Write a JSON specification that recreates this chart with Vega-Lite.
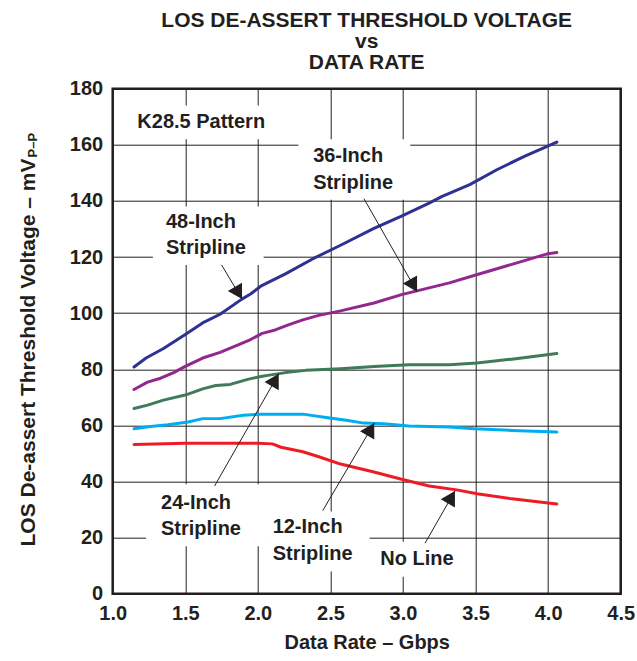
{
  "$schema": "https://vega.github.io/schema/vega-lite/v6.json",
  "width": 508,
  "height": 505,
  "autosize": {"type": "none"},
  "padding": {"left": 112.7, "top": 88.7, "right": 16, "bottom": 67},
  "background": "white",
  "config": {
    "font": "Liberation Sans",
    "view": {"stroke": "#231F20", "strokeWidth": 2.5},
    "axis": {
      "grid": true,
      "gridColor": "#231F20",
      "gridOpacity": 1,
      "gridWidth": 1,
      "ticks": false,
      "domain": false,
      "labelFont": "Liberation Sans",
      "labelFontWeight": "bold",
      "labelFontSize": 20,
      "labelColor": "#231F20",
      "titleFont": "Liberation Sans",
      "titleFontWeight": "bold",
      "titleFontSize": 20,
      "titleColor": "#231F20"
    }
  },
  "title": {
    "text": ["LOS DE-ASSERT THRESHOLD VOLTAGE", "vs", "DATA RATE"],
    "font": "Liberation Sans",
    "fontWeight": "bold",
    "fontSize": 21,
    "lineHeight": 21,
    "color": "#231F20",
    "anchor": "middle",
    "frame": "group",
    "offset": 6
  },
  "datasets": {
    "curves": [
      {"series": "48-Inch", "rate": 1.147, "mv": 80.8},
      {"series": "48-Inch", "rate": 1.23, "mv": 84},
      {"series": "48-Inch", "rate": 1.35, "mv": 87.4},
      {"series": "48-Inch", "rate": 1.5, "mv": 92.4},
      {"series": "48-Inch", "rate": 1.63, "mv": 96.8},
      {"series": "48-Inch", "rate": 1.74, "mv": 99.6},
      {"series": "48-Inch", "rate": 1.89, "mv": 105},
      {"series": "48-Inch", "rate": 1.95, "mv": 106.8},
      {"series": "48-Inch", "rate": 2.02, "mv": 109.6},
      {"series": "48-Inch", "rate": 2.19, "mv": 114},
      {"series": "48-Inch", "rate": 2.38, "mv": 119.4},
      {"series": "48-Inch", "rate": 2.57, "mv": 124.2},
      {"series": "48-Inch", "rate": 2.8, "mv": 130.2},
      {"series": "48-Inch", "rate": 2.99, "mv": 134.6},
      {"series": "48-Inch", "rate": 3.18, "mv": 139.2},
      {"series": "48-Inch", "rate": 3.27, "mv": 141.6},
      {"series": "48-Inch", "rate": 3.46, "mv": 145.8},
      {"series": "48-Inch", "rate": 3.65, "mv": 151.2},
      {"series": "48-Inch", "rate": 3.84, "mv": 156},
      {"series": "48-Inch", "rate": 4.06, "mv": 161},
      {"series": "36-Inch", "rate": 1.147, "mv": 72.8},
      {"series": "36-Inch", "rate": 1.24, "mv": 75.4},
      {"series": "36-Inch", "rate": 1.33, "mv": 76.8},
      {"series": "36-Inch", "rate": 1.42, "mv": 78.8},
      {"series": "36-Inch", "rate": 1.5, "mv": 81},
      {"series": "36-Inch", "rate": 1.62, "mv": 84},
      {"series": "36-Inch", "rate": 1.74, "mv": 86},
      {"series": "36-Inch", "rate": 1.86, "mv": 88.6},
      {"series": "36-Inch", "rate": 1.95, "mv": 90.6},
      {"series": "36-Inch", "rate": 2.03, "mv": 92.8},
      {"series": "36-Inch", "rate": 2.12, "mv": 94},
      {"series": "36-Inch", "rate": 2.21, "mv": 95.8},
      {"series": "36-Inch", "rate": 2.31, "mv": 97.6},
      {"series": "36-Inch", "rate": 2.42, "mv": 99.2},
      {"series": "36-Inch", "rate": 2.57, "mv": 100.8},
      {"series": "36-Inch", "rate": 2.8, "mv": 103.6},
      {"series": "36-Inch", "rate": 2.99, "mv": 106.6},
      {"series": "36-Inch", "rate": 3.18, "mv": 109},
      {"series": "36-Inch", "rate": 3.32, "mv": 110.8},
      {"series": "36-Inch", "rate": 3.49, "mv": 113.4},
      {"series": "36-Inch", "rate": 3.75, "mv": 117.4},
      {"series": "36-Inch", "rate": 4.0, "mv": 121.2},
      {"series": "36-Inch", "rate": 4.06, "mv": 121.6},
      {"series": "24-Inch", "rate": 1.147, "mv": 66},
      {"series": "24-Inch", "rate": 1.24, "mv": 67.2},
      {"series": "24-Inch", "rate": 1.35, "mv": 69},
      {"series": "24-Inch", "rate": 1.5, "mv": 70.8},
      {"series": "24-Inch", "rate": 1.62, "mv": 73},
      {"series": "24-Inch", "rate": 1.71, "mv": 74.2},
      {"series": "24-Inch", "rate": 1.81, "mv": 74.6},
      {"series": "24-Inch", "rate": 1.93, "mv": 76.4},
      {"series": "24-Inch", "rate": 2.02, "mv": 77.4},
      {"series": "24-Inch", "rate": 2.09, "mv": 78},
      {"series": "24-Inch", "rate": 2.19, "mv": 78.8},
      {"series": "24-Inch", "rate": 2.33, "mv": 79.6},
      {"series": "24-Inch", "rate": 2.57, "mv": 80.2},
      {"series": "24-Inch", "rate": 2.8, "mv": 81},
      {"series": "24-Inch", "rate": 3.04, "mv": 81.6},
      {"series": "24-Inch", "rate": 3.32, "mv": 81.6},
      {"series": "24-Inch", "rate": 3.51, "mv": 82.2},
      {"series": "24-Inch", "rate": 3.75, "mv": 83.6},
      {"series": "24-Inch", "rate": 4.06, "mv": 85.6},
      {"series": "12-Inch", "rate": 1.147, "mv": 58.8},
      {"series": "12-Inch", "rate": 1.26, "mv": 59.6},
      {"series": "12-Inch", "rate": 1.38, "mv": 60.2},
      {"series": "12-Inch", "rate": 1.52, "mv": 61.2},
      {"series": "12-Inch", "rate": 1.62, "mv": 62.4},
      {"series": "12-Inch", "rate": 1.74, "mv": 62.4},
      {"series": "12-Inch", "rate": 1.9, "mv": 63.6},
      {"series": "12-Inch", "rate": 2.02, "mv": 64},
      {"series": "12-Inch", "rate": 2.16, "mv": 64},
      {"series": "12-Inch", "rate": 2.31, "mv": 64},
      {"series": "12-Inch", "rate": 2.47, "mv": 62.8},
      {"series": "12-Inch", "rate": 2.61, "mv": 61.8},
      {"series": "12-Inch", "rate": 2.73, "mv": 60.8},
      {"series": "12-Inch", "rate": 2.87, "mv": 60.6},
      {"series": "12-Inch", "rate": 3.04, "mv": 59.8},
      {"series": "12-Inch", "rate": 3.32, "mv": 59.4},
      {"series": "12-Inch", "rate": 3.49, "mv": 58.8},
      {"series": "12-Inch", "rate": 3.75, "mv": 58.2},
      {"series": "12-Inch", "rate": 4.06, "mv": 57.6},
      {"series": "No Line", "rate": 1.147, "mv": 53.2},
      {"series": "No Line", "rate": 1.5, "mv": 53.6},
      {"series": "No Line", "rate": 1.86, "mv": 53.6},
      {"series": "No Line", "rate": 2.0, "mv": 53.6},
      {"series": "No Line", "rate": 2.1, "mv": 53.4},
      {"series": "No Line", "rate": 2.16, "mv": 52.2},
      {"series": "No Line", "rate": 2.31, "mv": 50.6},
      {"series": "No Line", "rate": 2.42, "mv": 48.8},
      {"series": "No Line", "rate": 2.57, "mv": 46.2},
      {"series": "No Line", "rate": 2.8, "mv": 43.4},
      {"series": "No Line", "rate": 2.99, "mv": 40.8},
      {"series": "No Line", "rate": 3.18, "mv": 38.4},
      {"series": "No Line", "rate": 3.37, "mv": 37},
      {"series": "No Line", "rate": 3.51, "mv": 35.6},
      {"series": "No Line", "rate": 3.75, "mv": 33.8},
      {"series": "No Line", "rate": 4.06, "mv": 32}
    ],
    "labels": [
      {"text": "K28.5 Pattern", "x": 1.17, "y": 166},
      {"text": "36-Inch\nStripline", "x": 2.381, "y": 153.8},
      {"text": "48-Inch\nStripline", "x": 1.367, "y": 130.4},
      {"text": "24-Inch\nStripline", "x": 1.333, "y": 30.2},
      {"text": "12-Inch\nStripline", "x": 2.102, "y": 21.6},
      {"text": "No Line", "x": 2.844, "y": 10.2}
    ],
    "boxes": [
      {"x": 1.12, "x2": 2.15, "y": 162, "y2": 174},
      {"x": 2.28, "x2": 3.05, "y": 140.4, "y2": 162},
      {"x": 1.277, "x2": 2.04, "y": 117.2, "y2": 138},
      {"x": 1.23, "x2": 2.05, "y": 16.9, "y2": 39},
      {"x": 2.05, "x2": 2.77, "y": 7.9, "y2": 29.3},
      {"x": 2.77, "x2": 3.42, "y": 6, "y2": 18.5}
    ],
    "arrows": [
      {"x": 1.75, "y": 117.2, "x2": 1.891, "y2": 105.0, "dir": "down"},
      {"x": 2.731, "y": 140.8, "x2": 3.097, "y2": 107.6, "dir": "down"},
      {"x": 1.702, "y": 38.4, "x2": 2.144, "y2": 78.4, "dir": "up"},
      {"x": 2.447, "y": 29.6, "x2": 2.802, "y2": 60.8, "dir": "up"},
      {"x": 3.152, "y": 18, "x2": 3.358, "y2": 36.6, "dir": "up"}
    ]
  },
  "layer": [
    {
      "data": {"name": "boxes"},
      "mark": {"type": "rect", "fill": "white", "stroke": null},
      "encoding": {
        "x": {"field": "x", "type": "quantitative", "scale": {"domain": [1, 4.5], "nice": false, "zero": false},
              "axis": {"values": [1, 1.5, 2, 2.5, 3, 3.5, 4, 4.5], "format": ".1f", "labelPadding": 10, "title": "Data Rate – Gbps", "titlePadding": 9, "labelFlush": false}},
        "x2": {"field": "x2"},
        "y": {"field": "y", "type": "quantitative", "scale": {"domain": [0, 180], "nice": false},
              "axis": {"values": [0, 20, 40, 60, 80, 100, 120, 140, 160, 180], "labelPadding": 10, "title": "LOS De-assert Threshold Voltage – mV", "titleFontSize": 21, "titleX": -78, "titleY": 263.3, "titleBaseline": "alphabetic", "titleAlign": "center", "titleAngle": 270, "labelFlush": false}},
        "y2": {"field": "y2"}
      }
    },
    {
      "data": {"name": "curves"},
      "mark": {"type": "line", "strokeWidth": 3, "strokeJoin": "round", "strokeCap": "round"},
      "encoding": {
        "x": {"field": "rate", "type": "quantitative"},
        "y": {"field": "mv", "type": "quantitative"},
        "color": {"field": "series", "type": "nominal", "legend": null,
                  "scale": {"domain": ["48-Inch", "36-Inch", "24-Inch", "12-Inch", "No Line"],
                            "range": ["#2E3192", "#92278F", "#3F7A5B", "#00AEEF", "#ED1C24"]}}
      }
    },
    {
      "data": {"name": "arrows"},
      "mark": {"type": "rule", "stroke": "#231F20", "strokeWidth": 1},
      "encoding": {
        "x": {"field": "x", "type": "quantitative"},
        "y": {"field": "y", "type": "quantitative"},
        "x2": {"field": "x2"},
        "y2": {"field": "y2"}
      }
    },
    {
      "data": {"name": "arrows"},
      "mark": {"type": "point", "shape": "M0,0L1,1.732L-1,1.732Z", "filled": true, "fill": "#231F20", "stroke": null, "opacity": 1, "size": 270},
      "encoding": {
        "x": {"field": "x2", "type": "quantitative"},
        "y": {"field": "y2", "type": "quantitative"},
        "angle": {"field": "dir", "type": "nominal", "scale": {"domain": ["down", "up"], "range": [150, 30]}, "legend": null}
      }
    },
    {
      "data": {"name": "labels"},
      "mark": {"type": "text", "align": "left", "baseline": "alphabetic", "font": "Liberation Sans", "fontWeight": "bold", "fontSize": 20, "lineHeight": 26.5, "lineBreak": "\n", "color": "#231F20"},
      "encoding": {
        "x": {"field": "x", "type": "quantitative"},
        "y": {"field": "y", "type": "quantitative"},
        "text": {"field": "text"}
      }
    },
    {
      "data": {"values": [{"sub": "P–P"}]},
      "mark": {"type": "text", "angle": 270, "align": "left", "baseline": "alphabetic", "font": "Liberation Sans", "fontWeight": "bold", "fontSize": 13, "color": "#231F20", "dy": -76},
      "encoding": {
        "x": {"datum": 1},
        "y": {"datum": 155.5},
        "text": {"field": "sub"}
      }
    }
  ]
}
